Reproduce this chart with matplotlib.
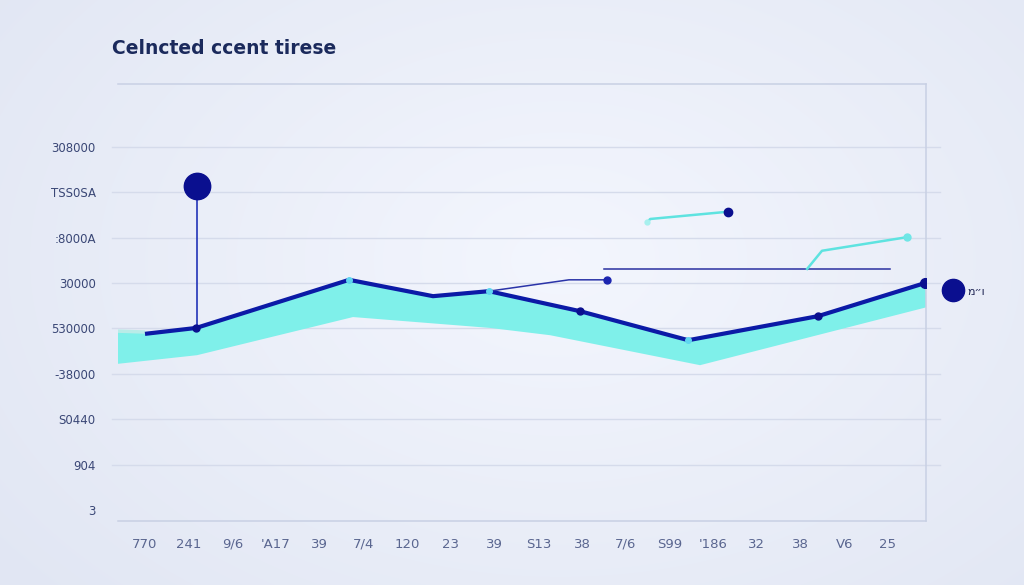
import numpy as np
import matplotlib
matplotlib.use('Agg')
import matplotlib.pyplot as plt

# ── data ──
X_LABELS = ['770', '241', '9/6', "'A17", '39', '7/4', '120', '23', '39',
            'S13', '38', '7/6', 'S99', "'186", '32', '38', 'V6', '25']
Y_LABELS = ['3', '904', 'S0440', '-38000', '530000', '30000',
            ':8000A', 'TSS0SA', '308000']

# main line
line_x = [0.0, 1.17, 4.67, 6.59, 7.87, 9.95, 12.43, 15.40, 17.85]
line_y = [3.88, 4.01, 5.07, 4.71, 4.82, 4.38, 3.74, 4.27, 5.00]
dot_dark = [1, 5, 7, 8]
dot_cyan = [2, 4, 6]

# band below the line
band_top_x = [-0.62, 0.0, 1.17, 4.67, 6.59, 7.87, 9.95, 12.43, 15.40, 17.85]
band_top_y = [3.94, 3.92, 4.01, 5.07, 4.71, 4.82, 4.38, 3.74, 4.27, 5.00]
band_low_x = [-0.62, 1.19, 4.76, 7.90, 9.27, 12.70, 17.90]
band_low_y = [3.22, 3.41, 4.25, 4.01, 3.85, 3.19, 4.47]

# stray segments
pin_x, pin_y, pin_base = 1.19, 7.14, 4.01
thin_dark_x = [7.87, 9.70, 10.57]
thin_dark_y = [4.82, 5.07, 5.07]
flat_x = [10.5, 17.05]
flat_y = [5.31, 5.31]
cyan1_x = [11.49, 11.56, 13.34]
cyan1_y = [6.34, 6.41, 6.57]
cyan2_x = [15.15, 15.49, 17.44]
cyan2_y = [5.31, 5.71, 6.01]
end_x, end_y = 18.49, 4.85

NAVY = '#0b1aa6'
DARK = '#0a0f8f'
CYAN = '#7ff0ea'
GRID = '#d5dbeb'

fig = plt.figure(figsize=(10.24, 5.85), dpi=100)

# background gradient
bg = fig.add_axes([0, 0, 1, 1], zorder=-10)
yy, xx = np.mgrid[0:585, 0:1024]
r = np.sqrt(((xx - 560) / 700.0) ** 2 + ((yy - 260) / 480.0) ** 2)
c0 = np.array([0.955, 0.965, 0.995])
c1 = np.array([0.885, 0.905, 0.955])
t = np.clip(r, 0, 1)[..., None]
bg.imshow(c0 * (1 - t) + c1 * t, aspect='auto')
bg.axis('off')

ax = fig.add_axes([118 / 1024, 1 - 521 / 585, 808 / 1024, 437 / 585])
ax.patch.set_alpha(0)
ax.set_xlim(-0.618, 17.87)
ax.set_ylim(-0.242, 9.383)

for v in range(1, len(Y_LABELS)):
    ax.axhline(v, xmin=-0.008, xmax=1.017, color=GRID, lw=1, clip_on=False, zorder=0)

# band
poly_x = band_top_x + band_low_x[::-1]
poly_y = band_top_y + band_low_y[::-1]
ax.fill(poly_x, poly_y, color=CYAN, lw=0, zorder=1)
ax.plot(band_top_x[:2], band_top_y[:2], color='#b9ece8', lw=2.5, zorder=2,
        solid_capstyle='butt')

# main line
ax.plot(line_x, line_y, color=NAVY, lw=3, zorder=3, solid_capstyle='butt')
ax.plot([line_x[i] for i in dot_dark], [line_y[i] for i in dot_dark], 'o',
        color=DARK, ms=5, zorder=4)
ax.plot([line_x[i] for i in dot_cyan], [line_y[i] for i in dot_cyan], 'o',
        color='#5fd6f0', ms=4, zorder=4)
ax.plot(line_x[-1], line_y[-1], 'o', color=DARK, ms=7, zorder=4)

# pin
ax.plot([pin_x, pin_x], [pin_base, pin_y], color='#2233b8', lw=1.2, zorder=3)
ax.plot(pin_x, pin_y, 'o', color=DARK, ms=19, zorder=5)

# stray lines
ax.plot(thin_dark_x, thin_dark_y, color='#2a33a8', lw=1.1, zorder=3)
ax.plot(thin_dark_x[-1], thin_dark_y[-1], 'o', color='#1c25b0', ms=5, zorder=4)
ax.plot(flat_x, flat_y, color='#2a30a0', lw=1.1, zorder=3)
ax.plot(cyan1_x, cyan1_y, color='#5ee3e0', lw=1.8, zorder=3)
ax.plot(cyan1_x[0], cyan1_y[0], 'o', color='#a8f0ee', ms=3.5, zorder=4)
ax.plot(cyan1_x[-1], cyan1_y[-1], 'o', color=DARK, ms=6, zorder=4)
ax.plot(cyan2_x, cyan2_y, color='#5ee3e0', lw=1.8, zorder=3)
ax.plot(cyan2_x[-1], cyan2_y[-1], 'o', color='#6fe6e6', ms=5, zorder=4)

ax.plot(end_x, end_y, 'o', color=DARK, ms=16, zorder=5, clip_on=False)
ax.text(end_x + 0.33, end_y - 0.05, 'מ״ו', fontsize=8, color='#1a2050',
        va='center', ha='left', clip_on=False)

# axes styling
ax.spines['left'].set_visible(False)
for s in ['top', 'bottom', 'right']:
    ax.spines[s].set_color('#c8d0e4')
    ax.spines[s].set_linewidth(1.1)

ax.set_xticks(range(len(X_LABELS)))
ax.set_xticklabels(X_LABELS, fontsize=9.5, color='#5a6690')
ax.set_yticks(range(len(Y_LABELS)))
ax.set_yticklabels(Y_LABELS, fontsize=8.5, color='#3a4776')
ax.tick_params(axis='both', length=0)
ax.tick_params(axis='x', pad=12)
ax.tick_params(axis='y', pad=16)

fig.text(112 / 1024, 1 - 49 / 585, 'Celncted ccent tirese', fontsize=13.5,
         fontweight='semibold', color='#1b2a5c', va='center', ha='left')

fig.savefig('out.png', dpi=100)
